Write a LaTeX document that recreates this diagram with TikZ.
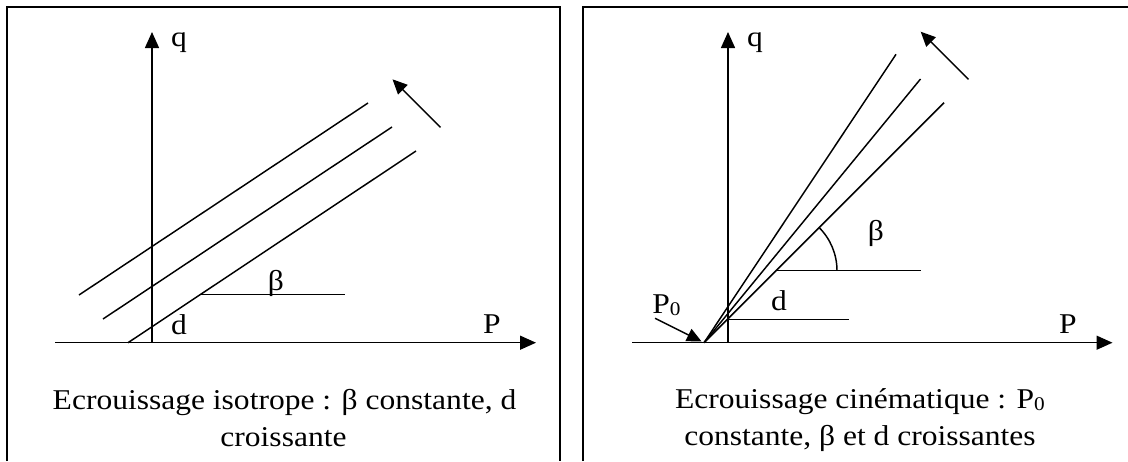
\documentclass[tikz,border=0pt]{standalone}
\usepackage{fontspec}
\setmainfont{Liberation Serif}[FakeStretch=1.1]
\usetikzlibrary{arrows.meta}
\newcommand{\subzero}{\raisebox{-2pt}{\fontsize{14.5}{15}\selectfont 0}}
\begin{document}
\begin{tikzpicture}[x=0.75pt,y=-0.75pt,
  frame/.style={line width=1.5pt},
  ln/.style={line width=1.1pt},
  axis/.style={line width=1.1pt,-{Triangle[length=12pt,width=10.5pt]}},
  motion/.style={line width=1.1pt,-{Triangle[length=11pt,width=10pt]}},
  lbl/.style={font=\fontsize{21.5}{30}\selectfont, inner sep=0pt},
  captext/.style={font=\fontsize{21.5}{30}\selectfont, inner sep=0pt, anchor=base}]
\useasboundingbox (0,0) rectangle (1128,461);
% frames
\draw[frame] (7,461) -- (7,7) -- (560,7) -- (560,461);
\draw[frame] (583,461) -- (583,7) -- (1128,7);

% ---------- left panel ----------
\coordinate (LO) at (152,342.7);
\coordinate (Lqtop) at (152,32);
\coordinate (Lpl) at (55,342.7);
\coordinate (Lpr) at (536,342.7);
\draw[axis] (LO) -- (Lqtop);
\draw[axis] (Lpl) -- (Lpr);
\coordinate (L1a) at (79,295);   \coordinate (L1b) at (368,103);
\coordinate (L2a) at (103,319);  \coordinate (L2b) at (392,127);
\coordinate (L3a) at (128,342.7);\coordinate (L3b) at (416,151);
\draw[ln] (L1a) -- (L1b);
\draw[ln] (L2a) -- (L2b);
\draw[ln] (L3a) -- (L3b);
\coordinate (Lba) at (200.7,294.3); \coordinate (Lbb) at (345,294.3);
\draw[ln] (Lba) -- (Lbb);
\coordinate (Lmt) at (440.5,127.3); \coordinate (Lmh) at (392.5,79.3);
\draw[motion] (Lmt) -- (Lmh);
\node[lbl] (Lq) at (179,43) {q};
\node[lbl] (LP) at (492,324) {P};
\node[lbl] (Ld) at (179,325) {d};
\node[lbl] (Lbeta) at (276,283) {β};
\node[captext] (Lcap1) at (284.5,409) {Ecrouissage isotrope : β constante, d};
\node[captext] (Lcap2) at (283.5,446) {croissante};

% ---------- right panel ----------
\coordinate (RO) at (704,342.7);
\coordinate (Rqb) at (728,342.7);
\coordinate (Rqtop) at (728,32);
\coordinate (Rpl) at (632,342.7);
\coordinate (Rpr) at (1112.5,342.7);
\draw[axis] (Rqb) -- (Rqtop);
\draw[axis] (Rpl) -- (Rpr);
\coordinate (RA) at (896,54.3);
\coordinate (RB) at (920.5,79);
\coordinate (RC) at (944,102.7);
\draw[ln] (RO) -- (RA);
\draw[ln] (RO) -- (RB);
\draw[ln] (RO) -- (RC);
\coordinate (Rba) at (776,270.7); \coordinate (Rbb) at (920.5,270.7);
\draw[ln] (Rba) -- (Rbb);
\draw[ln] (837,270.7) arc[start angle=0,end angle=-45,radius=61];
\coordinate (Rda) at (728,319.3); \coordinate (Rdb) at (848.5,319.3);
\draw[ln] (Rda) -- (Rdb);
\coordinate (Rmt) at (968.5,79.3); \coordinate (Rmh) at (920.7,31.7);
\draw[motion] (Rmt) -- (Rmh);
\coordinate (P0t) at (655,318.3);
\draw[motion, shorten >=2pt] (P0t) -- (RO);
\node[lbl] (Rq) at (755,43) {q};
\node[lbl] (RP) at (1068,324) {P};
\node[lbl] (Rd) at (779,301) {d};
\node[lbl] (Rbeta) at (876,233) {β};
\node[lbl, anchor=base west] (RP0) at (652,313) {P\subzero};
\node[captext] (Rcap1) at (860,408) {Ecrouissage cinématique : P\subzero};
\node[captext] (Rcap2) at (860,445) {constante, β et d croissantes};
\end{tikzpicture}
\end{document}
